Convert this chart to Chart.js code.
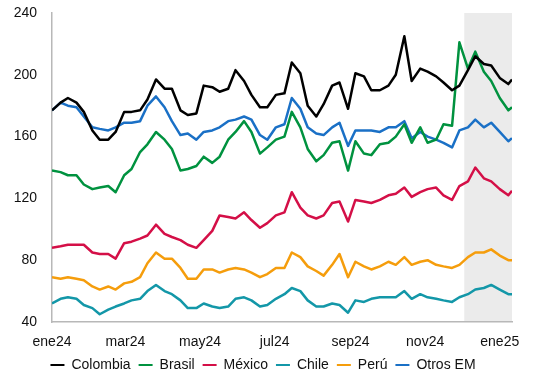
<!DOCTYPE html>
<html>
<head>
<meta charset="utf-8">
<script src="https://cdn.jsdelivr.net/npm/chart.js@4.4.1/dist/chart.umd.min.js"></script>
<style>
  html, body { margin: 0; padding: 0; background: #fff; }
  #wrap { position: relative; width: 535px; height: 372px; }
</style>
</head>
<body>
<div id="wrap"><canvas id="emChart"></canvas></div>
<script>
// días desde el 1 de enero de 2024
const dias = [0, 7, 13, 20, 26, 33, 39, 46, 52, 59, 65, 72, 78, 85, 92, 98, 105, 111, 118, 124,
  131, 137, 144, 150, 157, 163, 170, 176, 183, 190, 196, 203, 209, 216, 222, 229, 235, 242, 248, 255,
  261, 268, 275, 281, 288, 294, 301, 307, 314, 320, 327, 333, 340, 346, 353, 359, 366, 373, 376];

const colombia = [177, 182, 185, 182, 176, 164, 158, 158, 163, 176, 176, 177, 184, 197, 191,
  191, 177, 174, 175, 193, 192, 189, 191, 203, 196, 187, 179, 179, 187, 188,
  208, 201, 180, 173, 181, 193, 195, 178, 201, 199, 190, 190, 193, 200,
  225, 196, 204, 202, 199, 195, 190, 193, 203, 212, 207, 206, 198, 194, 197];
const brasil = [138, 137, 135, 135, 129, 126, 127, 128, 124, 135, 139, 150, 155, 163, 158,
  152, 138, 139, 141, 147, 143, 147, 158, 163, 170, 163, 149, 153, 158, 160,
  176, 166, 152, 144, 148, 156, 157, 138, 157, 149, 148, 155, 156, 160,
  168, 156, 166, 156, 158, 168, 167, 221, 204, 215, 202, 196, 185, 177, 179];
const mexico = [88, 89, 90, 90, 90, 85, 84, 84, 81, 91, 92, 94, 96, 103, 97,
  95, 93, 90, 88, 93, 99, 109, 108, 107, 111, 106, 101, 104, 109, 111,
  124, 114, 109, 107, 109, 117, 118, 105, 119, 118, 117, 119, 122, 123,
  127, 121, 124, 126, 127, 122, 119, 128, 131, 140, 133, 131, 126, 122, 125];
const chile = [52, 55, 56, 55, 51, 49, 45, 48, 50, 52, 54, 55, 60, 64, 60,
  58, 54, 49, 49, 52, 50, 49, 50, 55, 56, 54, 50, 51, 55, 58,
  62, 60, 54, 50, 50, 52, 51, 46, 54, 53, 55, 56, 56, 56,
  60, 55, 58, 56, 55, 54, 53, 56, 58, 61, 62, 64, 61, 58, 58];
const peru = [69, 68, 69, 68, 67, 63, 61, 63, 61, 65, 66, 69, 78, 85, 81,
  81, 75, 68, 68, 74, 74, 72, 74, 75, 74, 72, 69, 71, 75, 75,
  85, 82, 76, 73, 70, 77, 84, 69, 79, 76, 74, 76, 79, 77,
  82, 77, 79, 80, 77, 76, 75, 77, 82, 85, 85, 87, 83, 80, 80];
const otrosEM = [177, 182, 180, 179, 173, 166, 165, 164, 166, 169, 169, 170, 180, 186, 179,
  170, 161, 162, 158, 163, 164, 166, 170, 171, 173, 171, 161, 158, 166, 168,
  185, 178, 166, 162, 161, 166, 169, 154, 164, 164, 164, 163, 166, 166,
  170, 159, 163, 160, 158, 156, 153, 164, 166, 171, 166, 169, 163, 157, 159];

const tickDias = [0, 60, 121, 182, 244, 305, 366];
const tickLabels = ["ene24", "mar24", "may24", "jul24", "sep24", "nov24", "ene25"];

// periodo sombreado (diciembre en adelante)
const sombraDesde = 337;
const sombraHasta = 376;

const series = [
  { label: "Colombia", data: colombia, color: "#000000" },
  { label: "Brasil", data: brasil, color: "#00923f" },
  { label: "México", data: mexico, color: "#d40f47" },
  { label: "Chile", data: chile, color: "#1397a8" },
  { label: "Perú", data: peru, color: "#f59d0c" },
  { label: "Otros EM", data: otrosEM, color: "#1a70c6" }
];

const FONT = "'Liberation Sans', Arial, sans-serif";
Chart.defaults.font.family = FONT;
Chart.defaults.font.size = 14;
Chart.defaults.color = "#111";

const shadePlugin = {
  id: "shade",
  beforeDraw(chart) {
    const { ctx, chartArea, scales } = chart;
    const x0 = scales.x.getPixelForValue(sombraDesde);
    const x1 = scales.x.getPixelForValue(sombraHasta);
    ctx.save();
    ctx.fillStyle = "#ebebeb";
    ctx.fillRect(x0, chartArea.top, x1 - x0, chartArea.bottom - chartArea.top);
    ctx.restore();
  }
};

new Chart(document.getElementById("emChart"), {
  type: "line",
  data: {
    datasets: series.map(s => ({
      label: s.label,
      data: dias.map((d, i) => ({ x: d, y: s.data[i] })),
      borderColor: s.color,
      backgroundColor: s.color,
      borderWidth: 2.5,
      pointRadius: 0,
      tension: 0,
      borderJoinStyle: "round"
    }))
  },
  options: {
    responsive: true,
    maintainAspectRatio: false,
    animation: false,
    layout: { padding: { left: 14, right: 23, top: 13, bottom: -10 } },
    plugins: {
      title: { display: false },
      tooltip: { enabled: false },
      legend: {
        position: "bottom",
        labels: {
          boxWidth: 14,
          boxHeight: 2,
          padding: 8,
          color: "#111",
          font: { size: 14 },
          generateLabels: chart =>
            Chart.defaults.plugins.legend.labels.generateLabels(chart)
              .map(l => ({ ...l, fillStyle: l.strokeStyle, lineWidth: 0 }))
        }
      }
    },
    scales: {
      x: {
        type: "linear",
        min: 0,
        max: 376,
        afterBuildTicks: axis => { axis.ticks = tickDias.map(v => ({ value: v })); },
        afterFit: axis => { axis.height = 28; },
        ticks: {
          autoSkip: false,
          maxRotation: 0,
          padding: 12,
          color: "#111",
          callback: v => tickLabels[tickDias.indexOf(v)]
        },
        grid: { display: false, drawTicks: false },
        border: { display: true, color: "#b8b8b8", width: 1.5 }
      },
      y: {
        min: 40,
        max: 240,
        afterFit: axis => {
          axis.width = 38;
          axis.paddingTop = 0;
          axis.paddingBottom = 0;
        },
        ticks: { stepSize: 40, padding: 15, color: "#111" },
        grid: { display: false, drawTicks: false },
        border: { display: true, color: "#b8b8b8", width: 1.5 }
      }
    }
  },
  plugins: [shadePlugin]
});
</script>
</body>
</html>
